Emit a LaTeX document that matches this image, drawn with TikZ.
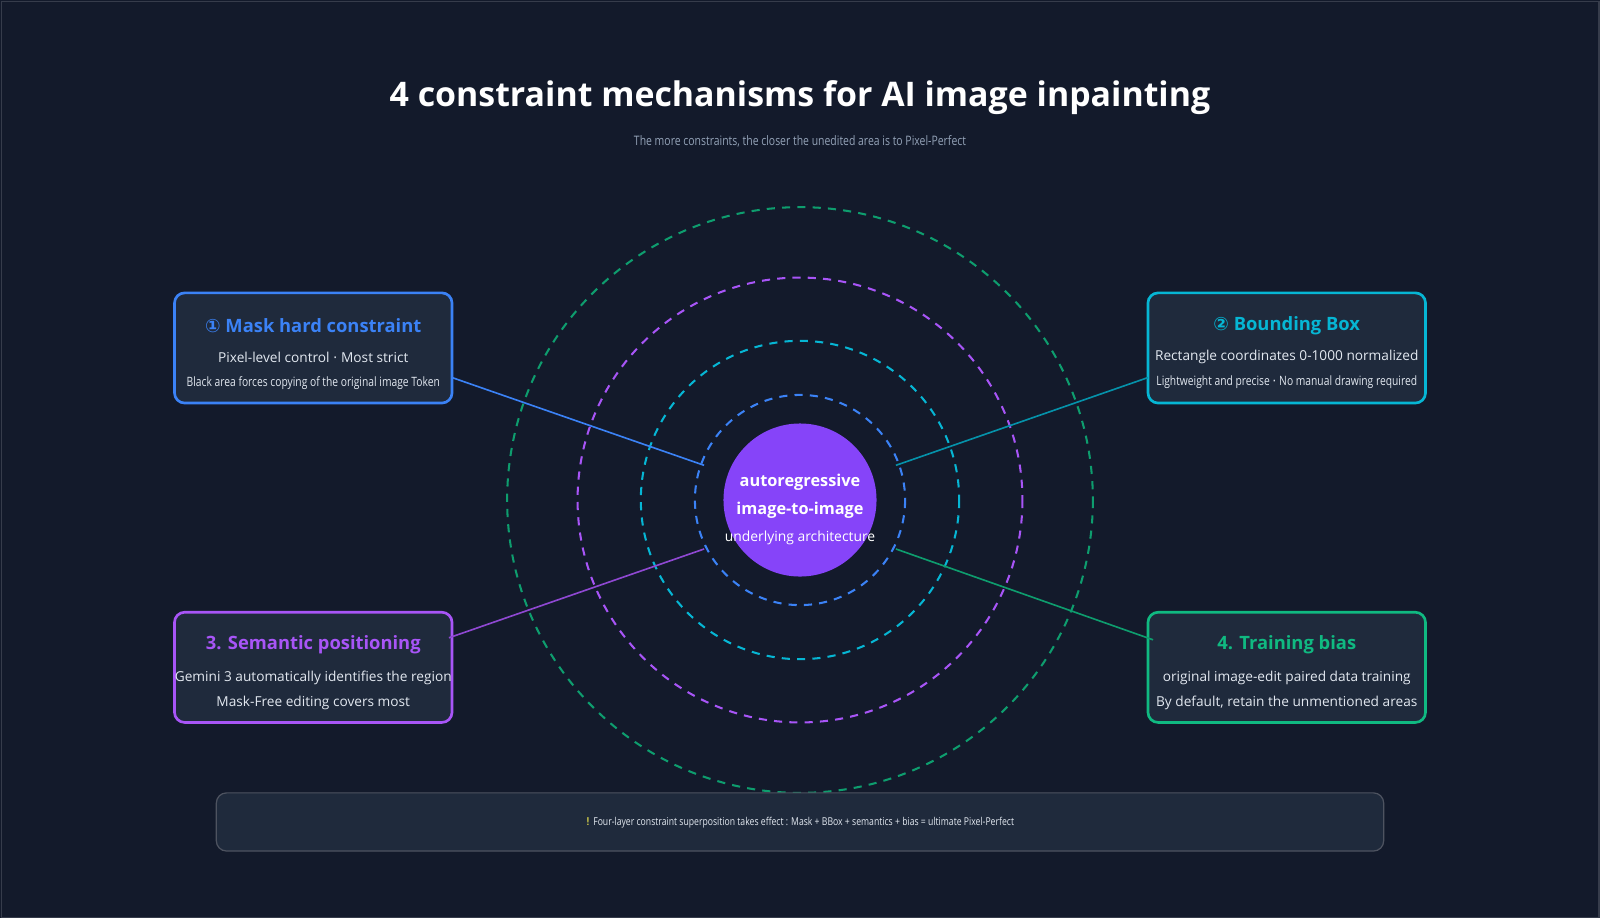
\documentclass[tikz,border=0pt]{standalone}
\usepackage{fontspec}
\setmainfont{Open Sans}
\newfontfamily\symfont{DejaVu Sans}
\newfontfamily\narrowfont[FakeStretch=0.8]{Open Sans}
\definecolor{bgc}{HTML}{131A2B}
\definecolor{boxc}{HTML}{1F2A3C}
\definecolor{cblue}{HTML}{3B82F6}
\definecolor{ccyan}{HTML}{06B6D4}
\definecolor{cpurple}{HTML}{A855F7}
\definecolor{cgreen}{HTML}{10B981}
\definecolor{csub}{HTML}{94A3B8}
\definecolor{ctext}{HTML}{E2E8F0}
\tikzset{
card/.style = {draw=#1, line width=1.3pt, rounded corners=5pt, fill=boxc, minimum width=136pt, minimum height=54pt},
ring/.style = {draw=#1, line width=1pt, dash pattern=on 4pt off 3.5pt},
head/.style = {font=\fontsize{9}{10}\selectfont\bfseries, text=#1},
body/.style = {font=\fontsize{6.7}{8}\selectfont, text=ctext},
small/.style = {font=\narrowfont\fontsize{6.3}{7}\selectfont, text=ctext}
}
\begin{document}
\begin{tikzpicture}[x=0.5pt,y=-0.5pt]
\useasboundingbox (0,0) rectangle (1568,900);
\fill[bgc] (0,0) rectangle (1568,900);
\draw[white!15!bgc, line width=0.5pt] (1,1) rectangle (1567,899);
%\draw[help lines] (0,0) grid (1568,900);
\node (title) [text=white, font=\fontsize{16.6}{18}\selectfont\bfseries] at (784,96) {4 constraint mechanisms for AI image inpainting};
\node (sub) [text=csub, font=\narrowfont\fontsize{6.4}{7}\selectfont] at (784,139) {The more constraints, the closer the unedited area is to Pixel-Perfect};
% rings
\draw[ring=cgreen!85!black] (784,490) circle (287);
\draw[ring=cpurple] (784,490) circle (218);
\draw[ring=ccyan] (784,490) circle (156);
\draw[ring=cblue] (784,490) circle (103);
\node (core) [circle, fill=cpurple!80!blue, minimum size=75pt, inner sep=0pt] at (784,490) {};
\node (c1) [text=white, font=\fontsize{8}{9}\selectfont\bfseries] at (784,473) {autoregressive};
\node (c2) [text=white, font=\fontsize{8}{9}\selectfont\bfseries] at (784,500) {image-to-image};
\node (c3) [text=white, font=\fontsize{6.8}{8}\selectfont] at (784,527) {underlying architecture};
\coordinate (pa) at (690,456);
\coordinate (pb) at (878,456);
\coordinate (pc) at (690,538);
\coordinate (pd) at (878,538);
% cards
\node (mask) [card=cblue] at (307,341) {};
\node (bbox) [card=ccyan] at (1261,341) {};
\node (sem) [card=cpurple] at (307,654) {};
\node (bias) [card=cgreen] at (1261,654) {};
\node [head=cblue] at (307,319) {{\symfont ①} Mask hard constraint};
\node [body] at (307,350) {Pixel-level control {\symfont ·} Most strict};
\node [small] at (307,375) {Black area forces copying of the original image Token};
\node [head=ccyan] at (1261,319) {{\symfont ②} Bounding Box};
\node [body] at (1261,350) {Rectangle coordinates 0-1000 normalized};
\node [small] at (1261,375) {Lightweight and precise {\symfont ·} No manual drawing required};
\node [head=cpurple] at (307,632) {3. Semantic positioning};
\node [body] at (307,664) {Gemini 3 automatically identifies the region};
\node [body] at (307,689) {Mask-Free editing covers most};
\node [head=cgreen] at (1261,632) {4. Training bias};
\node [body] at (1261,664) {original image-edit paired data training};
\node [body] at (1261,689) {By default, retain the unmentioned areas};
\coordinate (ma) at (443,370);
\coordinate (ba) at (1125,370);
\coordinate (sa) at (440,625);
\coordinate (ta) at (1130,627);
\path[line width=0.8pt]
(ma) edge [draw=cblue] (pa)
(ba) edge [draw=ccyan!80!black] (pb)
(sa) edge [draw=cpurple!85!black] (pc)
(ta) edge [draw=cgreen!85!black] (pd);
% footer
\node (foot) [draw=white!25!bgc, line width=0.6pt, fill=boxc, rounded corners=5pt, minimum width=572pt, minimum height=28.5pt] at (784,805.5) {};
\node [text=ctext, font=\narrowfont\fontsize{5.3}{6}\selectfont] at (784,806) {{\symfont\color{yellow!70!white}!} Four-layer constraint superposition takes effect : Mask + BBox + semantics + bias = ultimate Pixel-Perfect};
\end{tikzpicture}
\end{document}
